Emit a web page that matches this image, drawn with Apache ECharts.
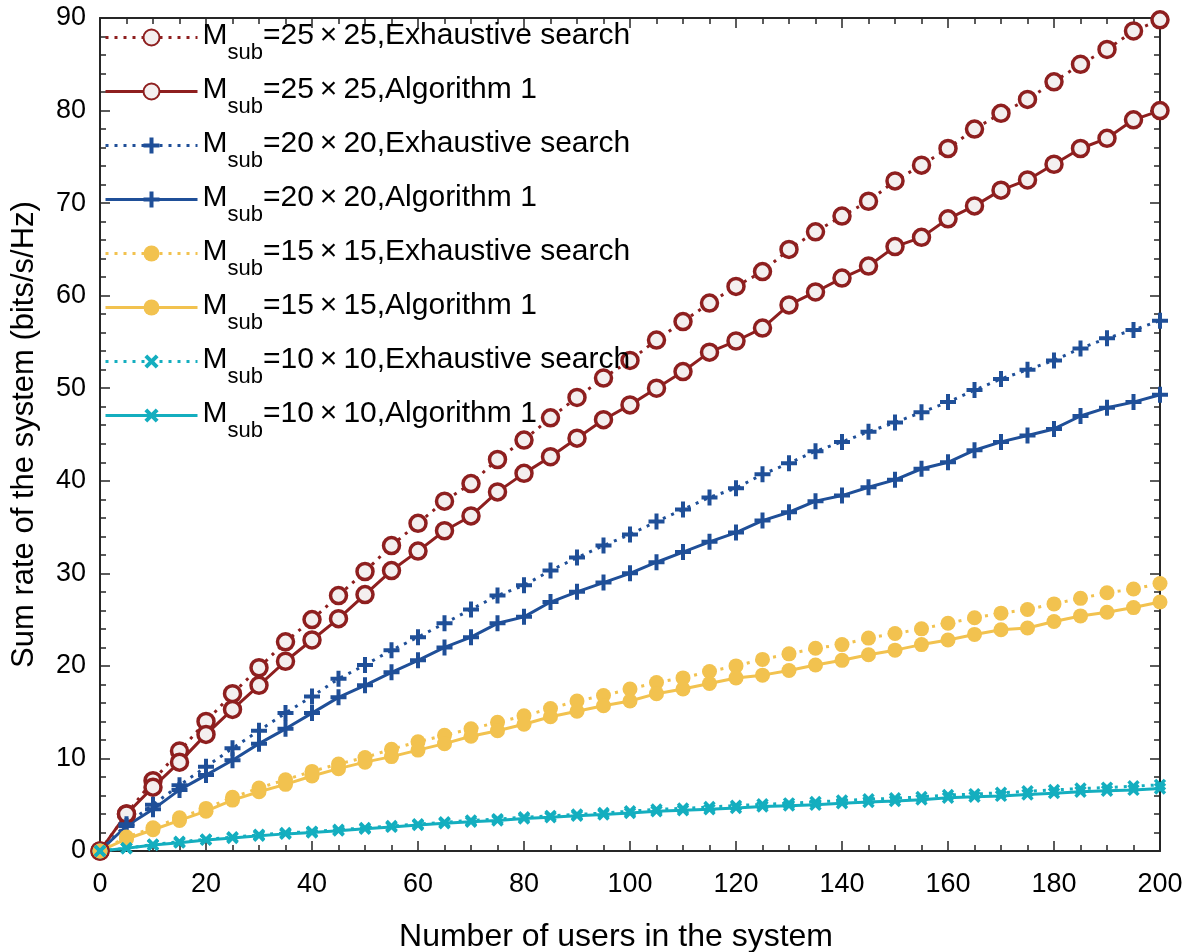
<!DOCTYPE html>
<html>
<head>
<meta charset="utf-8">
<script src="https://cdn.jsdelivr.net/npm/echarts@6/dist/echarts.min.js"></script>
<style>
html,body{margin:0;padding:0;background:#fff;}
#chart{width:1184px;height:952px;}
</style>
</head>
<body>
<div id="chart"></div>
<script>
const users = [0,5,10,15,20,25,30,35,40,45,50,55,60,65,70,75,80,85,90,95,100,105,110,115,120,125,130,135,140,145,150,155,160,165,170,175,180,185,190,195,200];
const xTicks = [0,20,40,60,80,100,120,140,160,180,200];
const yTicks = [0,10,20,30,40,50,60,70,80,90];

const red_exh = [0,4.0,7.6,10.8,14.0,17.0,19.8,22.6,25.0,27.6,30.2,33.0,35.4,37.8,39.7,42.3,44.4,46.8,49.0,51.1,53.0,55.2,57.2,59.2,61.0,62.6,65.0,66.9,68.6,70.2,72.4,74.1,75.9,78.0,79.7,81.2,83.1,85.0,86.6,88.6,89.8];
const red_alg = [0,4.0,6.9,9.6,12.6,15.3,17.9,20.5,22.8,25.1,27.7,30.3,32.4,34.6,36.2,38.8,40.8,42.6,44.6,46.6,48.2,50.0,51.8,53.9,55.1,56.5,59.0,60.4,61.9,63.2,65.3,66.3,68.3,69.7,71.4,72.5,74.2,75.9,77.0,79.0,80.0];
const blue_exh = [0,2.9,5.0,7.1,9.1,11.1,13.0,14.9,16.7,18.6,20.1,21.7,23.1,24.6,26.1,27.6,28.7,30.3,31.7,33.0,34.2,35.6,36.9,38.2,39.2,40.7,41.9,43.2,44.2,45.3,46.3,47.4,48.5,49.8,51.0,52.0,53.0,54.3,55.4,56.3,57.3];
const blue_alg = [0,2.7,4.5,6.6,8.2,9.8,11.6,13.2,14.9,16.6,17.9,19.3,20.6,22.0,23.1,24.6,25.3,26.9,28.0,29.0,30.0,31.2,32.3,33.4,34.4,35.7,36.6,37.8,38.4,39.3,40.1,41.3,42.0,43.3,44.2,44.9,45.6,47.0,47.9,48.5,49.3];
const yellow_exh = [0,1.5,2.5,3.6,4.6,5.8,6.8,7.7,8.6,9.4,10.1,11.0,11.8,12.5,13.2,13.9,14.6,15.4,16.2,16.8,17.5,18.2,18.7,19.4,20.0,20.7,21.3,21.9,22.3,23.0,23.5,24.0,24.6,25.2,25.7,26.1,26.7,27.3,27.9,28.3,28.9];
const yellow_alg = [0,1.3,2.3,3.3,4.3,5.5,6.4,7.2,8.1,8.9,9.6,10.2,10.9,11.6,12.4,13.0,13.7,14.5,15.1,15.7,16.2,17.0,17.5,18.1,18.7,19.0,19.5,20.1,20.6,21.2,21.7,22.3,22.8,23.4,23.9,24.1,24.8,25.4,25.8,26.3,26.9];
const cyan_exh = [0,0.3,0.7,1.0,1.25,1.5,1.75,1.95,2.1,2.3,2.5,2.7,2.9,3.1,3.3,3.45,3.65,3.8,3.95,4.1,4.3,4.5,4.6,4.75,4.9,5.05,5.15,5.3,5.45,5.6,5.7,5.85,6.05,6.15,6.3,6.45,6.6,6.75,6.85,7.0,7.15];
const cyan_alg = [0,0.3,0.65,0.9,1.2,1.4,1.65,1.85,2.0,2.2,2.4,2.6,2.8,3.0,3.15,3.3,3.5,3.65,3.8,3.95,4.1,4.3,4.4,4.5,4.65,4.8,4.9,5.0,5.15,5.3,5.4,5.55,5.75,5.85,5.95,6.1,6.25,6.4,6.5,6.6,6.75];

const names = [
  'M_sub=25\u2009×\u200925,Exhaustive search','M_sub=25\u2009×\u200925,Algorithm 1',
  'M_sub=20\u2009×\u200920,Exhaustive search','M_sub=20\u2009×\u200920,Algorithm 1',
  'M_sub=15\u2009×\u200915,Exhaustive search','M_sub=15\u2009×\u200915,Algorithm 1',
  'M_sub=10\u2009×\u200910,Exhaustive search','M_sub=10\u2009×\u200910,Algorithm 1'
];

const RED = '#8E1F1F', BLUE = '#1F4F98', YEL = '#F2C24F', CYAN = '#14AEBF';
const PLUS = 'path://M-1.5,-6 L1.5,-6 L1.5,-1.5 L6,-1.5 L6,1.5 L1.5,1.5 L1.5,6 L-1.5,6 L-1.5,1.5 L-6,1.5 L-6,-1.5 L-1.5,-1.5 Z';
const DOT = [3, 6];

function pairs(vals){ return users.map((u,i)=>[u, vals[i]]); }

function mk(name, vals, color, dotted, sym){
  return {
    name: name, type: 'line', data: pairs(vals),
    showSymbol: true, symbol: sym.symbol, symbolSize: sym.size, symbolRotate: sym.rotate || 0,
    lineStyle: {color: color, width: 3, type: dotted ? DOT : 'solid', cap: 'butt'},
    itemStyle: sym.itemStyle || {color: color},
    emphasis: {disabled: true},
    animation: false, z: 2
  };
}

const circ = {symbol: 'circle', size: 16, itemStyle: {color: '#F4EFEF', borderColor: RED, borderWidth: 3.5}};
const plus = {symbol: PLUS, size: 16, itemStyle: {color: BLUE}};
const fdot = {symbol: 'circle', size: 15, itemStyle: {color: YEL}};
const xs = {symbol: PLUS, size: 14, rotate: 45, itemStyle: {color: CYAN}};

const series = [
  mk(names[0], red_exh, RED, true, circ),
  mk(names[1], red_alg, RED, false, circ),
  mk(names[2], blue_exh, BLUE, true, plus),
  mk(names[3], blue_alg, BLUE, false, plus),
  mk(names[4], yellow_exh, YEL, true, fdot),
  mk(names[5], yellow_alg, YEL, false, fdot),
  mk(names[6], cyan_exh, CYAN, true, xs),
  mk(names[7], cyan_alg, CYAN, false, xs)
];

const AX = '#262626';
const FONT = 'Liberation Sans, Arial, Helvetica, sans-serif';

function xAx(pos, labels){
  return {
    type: 'value', position: pos, min: 0, max: 200, interval: 20,
    axisLine: {show: true, onZero: false, lineStyle: {color: AX, width: 2}},
    axisTick: {show: true, inside: true, length: 10, lineStyle: {color: AX, width: 1.5}},
    minorTick: {show: true, splitNumber: 4, length: 6, lineStyle: {color: AX, width: 1.5}},
    splitLine: {show: false}, minorSplitLine: {show: false},
    axisLabel: {show: labels, fontSize: 27, color: '#000', margin: 20, fontFamily: FONT,
      formatter: v => xTicks.indexOf(v) >= 0 ? String(v) : ''},
    name: labels ? 'Number of users in the system' : '',
    nameLocation: 'middle', nameGap: 70,
    nameTextStyle: {fontSize: 32, color: '#000', fontFamily: FONT, padding: [0, 28, 0, 0]}
  };
}
function yAx(pos, labels){
  return {
    type: 'value', position: pos, min: 0, max: 90, interval: 10,
    axisLine: {show: true, onZero: false, lineStyle: {color: AX, width: 2}},
    axisTick: {show: true, inside: true, length: 10, lineStyle: {color: AX, width: 1.5}},
    minorTick: {show: true, splitNumber: 5, length: 6, lineStyle: {color: AX, width: 1.5}},
    splitLine: {show: false}, minorSplitLine: {show: false},
    axisLabel: {show: labels, fontSize: 27, color: '#000', margin: 14, fontFamily: FONT,
      formatter: v => yTicks.indexOf(v) >= 0 ? String(v) : ''},
    name: labels ? 'Sum rate of the system (bits/s/Hz)' : '',
    nameLocation: 'middle', nameGap: 60,
    nameTextStyle: {fontSize: 31, color: '#000', fontFamily: FONT}
  };
}

const chart = echarts.init(document.getElementById('chart'), null, {renderer: 'canvas'});
chart.setOption({
  backgroundColor: '#fff',
  animation: false,
  grid: {left: 100, right: 24, top: 18, bottom: 101, containLabel: false, outerBoundsMode: 'none'},
  xAxis: [xAx('bottom', true), xAx('top', false)],
  yAxis: [yAx('left', true), yAx('right', false)],
  legend: {
    orient: 'vertical', left: 104, top: 21, padding: 0,
    itemWidth: 92, itemHeight: 20, itemGap: 11,
    data: names,
    selectedMode: false,
    lineStyle: {width: 3},
    formatter: function(n){
      const rest = n.replace('M_sub', '');
      return '{m|M}{s|sub}{t|' + rest + '}';
    },
    textStyle: {
      fontFamily: FONT, color: '#000',
      rich: {
        m: {fontSize: 30, lineHeight: 33, verticalAlign: 'top', fontFamily: FONT, color: '#000'},
        s: {fontSize: 22, lineHeight: 22, padding: [21, 0, 0, 0], verticalAlign: 'top', fontFamily: FONT, color: '#000'},
        t: {fontSize: 30, lineHeight: 33, verticalAlign: 'top', fontFamily: FONT, color: '#000'}
      }
    }
  },
  series: series
});
</script>
</body>
</html>
